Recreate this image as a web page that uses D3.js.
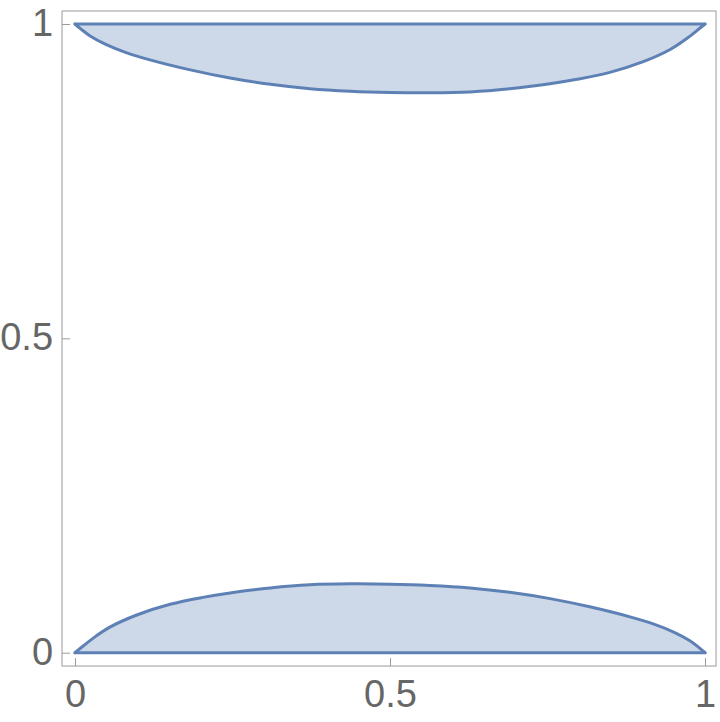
<!DOCTYPE html>
<html>
<head>
<meta charset="utf-8">
<script src="https://cdn.jsdelivr.net/npm/d3@7"></script>
<style>
  html, body { margin: 0; padding: 0; background: #fff; }
  svg { display: block; }
</style>
</head>
<body>
<svg id="chart" width="720" height="722"></svg>
<script>
// Data
const bottomX = [0, 0.012, 0.030, 0.056, 0.098, 0.151, 0.203, 0.246, 0.310, 0.373, 0.437, 0.500, 0.563, 0.627, 0.690, 0.754, 0.817, 0.881, 0.920, 0.952, 0.976, 0.990, 1];
const bottomY = [0, 0.0098, 0.024, 0.041, 0.060, 0.077, 0.088, 0.095, 0.103, 0.108, 0.1095, 0.109, 0.107, 0.103, 0.096, 0.086, 0.073, 0.057, 0.045, 0.032, 0.019, 0.0085, 0];
const topX = [0, 0.010, 0.024, 0.048, 0.080, 0.119, 0.183, 0.246, 0.310, 0.373, 0.437, 0.500, 0.563, 0.627, 0.690, 0.754, 0.797, 0.849, 0.902, 0.944, 0.970, 0.988, 1];
const topY = [1, 0.9915, 0.981, 0.968, 0.955, 0.943, 0.927, 0.914, 0.904, 0.897, 0.893, 0.891, 0.8905, 0.892, 0.897, 0.905, 0.912, 0.923, 0.940, 0.959, 0.976, 0.9902, 1];
const xTicks = [0, 0.5, 1];
const yTicks = [0, 0.5, 1];
const xTickLabels = ["0", "0.5", "1"];
const yTickLabels = ["0", "0.5", "1"];

const svg = d3.select("#chart");
const x = d3.scaleLinear().domain([0, 1]).range([75, 705]);
const y = d3.scaleLinear().domain([0, 1]).range([652.7, 24]);

const frame = { x0: -0.0206, x1: 1.0175, y0: -0.0212, y1: 1.0207 };

const fillColor = "#cdd8e8";
const lineColor = "#5e81b5";
const frameColor = "#9a9a9a";
const labelColor = "#666666";
const curve = d3.curveCatmullRom.alpha(0.5);

const bottomPts = bottomX.map((d, i) => [d, bottomY[i]]);
const topPts = topX.map((d, i) => [d, topY[i]]);

// Regions
svg.append("path")
  .datum(bottomPts)
  .attr("d", d3.area().x(d => x(d[0])).y0(y(0)).y1(d => y(d[1])).curve(curve))
  .attr("fill", fillColor);

svg.append("path")
  .datum(topPts)
  .attr("d", d3.area().x(d => x(d[0])).y0(y(1)).y1(d => y(d[1])).curve(curve))
  .attr("fill", fillColor);

const line = d3.line().x(d => x(d[0])).y(d => y(d[1])).curve(curve);
const straight = d3.line().x(d => x(d[0])).y(d => y(d[1]));

// Boundary lines
[[bottomPts, line], [[[0, 0], [1, 0]], straight], [topPts, line], [[[0, 1], [1, 1]], straight]]
  .forEach(([pts, gen]) => {
    svg.append("path").datum(pts).attr("d", gen)
      .attr("fill", "none").attr("stroke", lineColor)
      .attr("stroke-width", 3).attr("stroke-linejoin", "round").attr("stroke-linecap", "round");
  });

// Frame
const fx0 = x(frame.x0), fx1 = x(frame.x1), fy0 = y(frame.y0), fy1 = y(frame.y1);
svg.append("rect")
  .attr("x", fx0).attr("y", fy1)
  .attr("width", fx1 - fx0).attr("height", fy0 - fy1)
  .attr("fill", "none").attr("stroke", frameColor).attr("stroke-width", 1);

// Bottom axis
const xAxis = d3.axisBottom(x).tickValues(xTicks).tickFormat((d, i) => xTickLabels[i])
  .tickSizeInner(-8).tickSizeOuter(0);
const gx = svg.append("g").attr("transform", `translate(0,${fy0})`).call(xAxis);
gx.select(".domain").remove();
gx.selectAll(".tick line").attr("stroke", frameColor);
gx.selectAll(".tick text").attr("fill", labelColor)
  .style("font-family", "'Liberation Sans', Arial, sans-serif").style("font-size", "38px")
  .attr("dy", "0.71em").attr("y", 14);

// Left axis
const yAxis = d3.axisLeft(y).tickValues(yTicks).tickFormat((d, i) => yTickLabels[i])
  .tickSizeInner(-8).tickSizeOuter(0);
const gy = svg.append("g").attr("transform", `translate(${fx0},0)`).call(yAxis);
gy.select(".domain").remove();
gy.selectAll(".tick line").attr("stroke", frameColor);
gy.selectAll(".tick text").attr("fill", labelColor)
  .style("font-family", "'Liberation Sans', Arial, sans-serif").style("font-size", "38px")
  .attr("x", -9).attr("dy", "0.30em");
</script>
</body>
</html>
